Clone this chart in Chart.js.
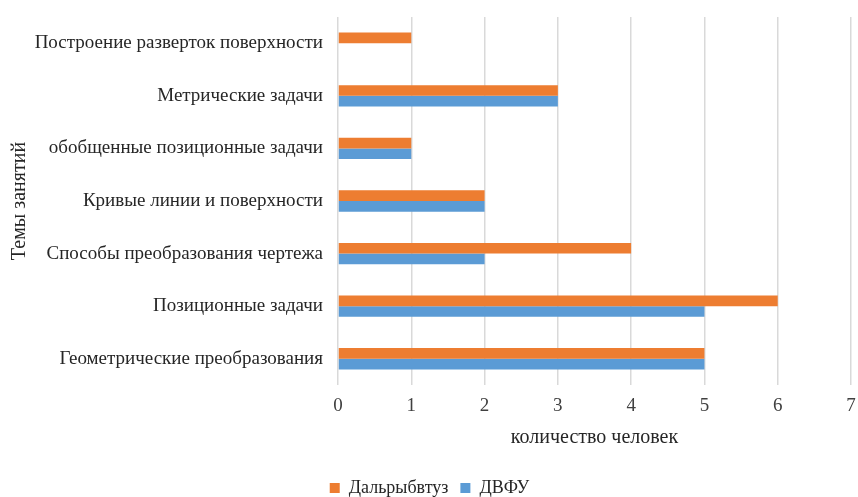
<!DOCTYPE html>
<html><head><meta charset="utf-8">
<script src="https://cdn.jsdelivr.net/npm/chart.js@4"></script>
<style>html,body{margin:0;padding:0;background:#fff}#w{width:858px;height:497px}</style>
</head><body><div id="w"><canvas id="c"></canvas></div>
<script>
const categories = [
  "Построение разверток поверхности",
  "Метрические задачи",
  "обобщенные позиционные задачи",
  "Кривые линии и поверхности",
  "Способы преобразования чертежа",
  "Позиционные задачи",
  "Геометрические преобразования"
];
const dalrybvtuz = [1, 3, 1, 2, 4, 6, 5];
const dvfu = [0, 3, 1, 2, 2, 5, 5];
const xTicks = [0, 1, 2, 3, 4, 5, 6, 7];
const seriesNames = ["Дальрыбвтуз", "ДВФУ"];
const xTitle = "количество человек";
const yTitle = "Темы занятий";

const font = "'Liberation Serif','Times New Roman',serif";
new Chart(document.getElementById('c'), {
  type: 'bar',
  data: {
    labels: categories,
    datasets: [
      {label: seriesNames[0], data: dalrybvtuz, backgroundColor: '#ED7D31', categoryPercentage: 0.406, barPercentage: 1},
      {label: seriesNames[1], data: dvfu, backgroundColor: '#5B9BD5', categoryPercentage: 0.406, barPercentage: 1}
    ]
  },
  options: {
    indexAxis: 'y',
    responsive: true, maintainAspectRatio: false, animation: false,
    layout: {padding: {top: 17, right: 7, left: 8, bottom: 0}},
    plugins: {
      legend: {position: 'bottom', maxHeight: 30, labels: {font: {family: font, size: 18}, color: '#262626', boxWidth: 10, boxHeight: 10, padding: 12}},
      tooltip: {enabled: false}
    },
    scales: {
      x: {
        min: 0, max: 7,
        afterBuildTicks: s => { s.ticks = xTicks.map(v => ({value: v})); },
        afterFit: s => { s.height = 82; s.paddingLeft = 0; s.paddingRight = 0; },
        grid: {color: '#d9d9d9', lineWidth: 1.5, drawTicks: false},
        border: {display: false},
        ticks: {font: {family: font, size: 19}, color: '#404040', padding: 10},
        title: {display: true, text: xTitle, font: {family: font, size: 20}, color: '#262626', padding: {top: 0, bottom: 17}}
      },
      y: {
        afterFit: s => { s.width = 330; s.paddingTop = 0; s.paddingBottom = 0; },
        grid: {display: false, drawTicks: false},
        border: {display: false},
        ticks: {font: {family: font, size: 19}, color: '#262626', padding: 15},
        title: {display: true, text: yTitle, font: {family: font, size: 20}, color: '#262626', padding: {top: 0, bottom: 5}}
      }
    }
  }
});
</script></body></html>
